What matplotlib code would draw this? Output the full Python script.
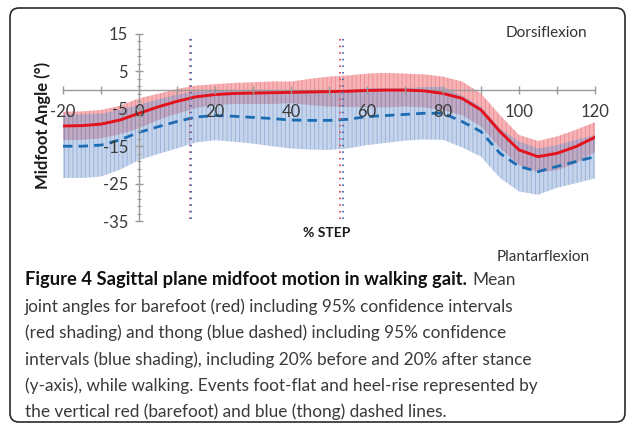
import numpy as np
import matplotlib
matplotlib.use("Agg")
import matplotlib.pyplot as plt
from matplotlib.patches import FancyBboxPatch

# % step (20% before and 20% after stance)
step = [-20, -15, -10, -5, 0, 5, 10, 15, 20, 25, 30, 35, 40, 45, 50, 55, 60,
        65, 70, 75, 80, 85, 90, 95, 100, 105, 110, 115, 120]

# barefoot (red) mean angle and 95% CI half width
bare_mean = [-9.6, -9.5, -9.1, -8.0, -6.2, -4.5, -3.0, -1.8, -1.2, -0.9, -0.8, -0.7,
             -0.6, -0.5, -0.4, -0.3, -0.1, 0.0, 0.0, -0.2, -0.9, -2.2, -5.3, -11.1,
             -16.0, -17.8, -16.9, -15.1, -12.6]
bare_ci = [3.8, 3.8, 3.8, 3.8, 4.0, 3.5, 3.3, 3.0, 2.8, 2.8, 2.9, 3.0, 2.9, 3.5,
           4.0, 4.2, 4.5, 4.6, 4.4, 4.4, 4.5, 4.5, 4.4, 4.4, 4.0, 4.2, 4.5, 4.5, 4.0]

# thong (blue) mean angle and 95% CI half width
thong_mean = [-15.0, -15.0, -14.7, -13.3, -11.3, -9.8, -8.4, -7.2, -6.8, -7.0, -7.3,
              -7.6, -8.0, -8.1, -8.1, -7.8, -7.1, -6.8, -6.5, -6.2, -6.2, -8.4, -11.1,
              -16.9, -20.4, -21.8, -20.4, -19.1, -17.8]
thong_ci = [8.5, 8.5, 8.4, 8.0, 7.4, 7.3, 7.2, 6.8, 6.6, 6.8, 7.0, 7.4, 7.6, 7.8,
            7.9, 7.8, 7.6, 7.3, 7.0, 7.0, 7.1, 6.9, 6.7, 6.6, 6.7, 6.2, 5.7, 5.8, 5.8]

# events foot-flat / heel-rise
bare_events = [13.5, 53.0]
thong_events = [13.8, 53.6]

x_ticks = [-20, 0, 20, 40, 60, 80, 100, 120]
y_ticks = [15, 5, -5, -15, -25, -35]

caption_bold = "Figure 4 Sagittal plane midfoot motion in walking gait."
caption_lines = [
    "Mean",
    "joint angles for barefoot (red) including 95% confidence intervals",
    "(red shading) and thong (blue dashed) including 95% confidence",
    "intervals (blue shading), including 20% before and 20% after stance",
    "(y-axis), while walking. Events foot-flat and heel-rise represented by",
    "the vertical red (barefoot) and blue (thong) dashed lines.",
]

plt.rcParams["font.family"] = ["Lato", "DejaVu Sans"]
plt.rcParams["hatch.linewidth"] = 0.7
plt.rcParams["axes.unicode_minus"] = False

W, H = 629, 423
fig = plt.figure(figsize=(W / 100, H / 100), dpi=100)

x = np.array(step)
bm, bc = np.array(bare_mean), np.array(bare_ci)
tm, tc = np.array(thong_mean), np.array(thong_ci)

ax = fig.add_axes([63 / W, (H - 221) / H, 532 / W, 187 / H])
ax.set_xlim(-20, 120)
ax.set_ylim(-35, 15)
ax.patch.set_visible(False)

# CI shading (excel-style error bars -> hatched fills)
ax.fill_between(x, bm - bc, bm + bc, facecolor="#f6b4b6", edgecolor="#ee8e93",
                hatch="||||", linewidth=0, zorder=1)
ax.fill_between(x, tm - tc, tm + tc, facecolor="#789dd3", edgecolor="#5f86c4",
                hatch="||||", linewidth=0, alpha=0.42, zorder=2)

ax.plot(x, tm, color="#1b6cb3", lw=2.0, dashes=(3.4, 2.2), zorder=4)
ax.plot(x, bm, color="#e3121c", lw=2.1, zorder=5)

for e in bare_events:
    ax.plot([e, e], [-34.5, 14.5], color="#e05060", lw=1.4, dashes=(0.8, 2.6), zorder=6)
for e in thong_events:
    ax.plot([e, e], [-34.5, 14.5], color="#5070b8", lw=1.4, dashes=(0.8, 2.6),
            dash_capstyle="butt", zorder=6)

for s in ["top", "right"]:
    ax.spines[s].set_visible(False)
ax.spines["left"].set_position(("data", 0))
ax.spines["bottom"].set_position(("data", 0))
for s in ["left", "bottom"]:
    ax.spines[s].set_color("#9a9a9a")
    ax.spines[s].set_linewidth(1.0)
    ax.spines[s].set_zorder(3)
ax.xaxis.set_zorder(7)
ax.yaxis.set_zorder(7)

ax.set_xticks(x_ticks)
ax.set_xticks(range(-20, 121, 10), minor=True)
ax.set_yticks(y_ticks)
ax.set_yticks(range(-35, 16, 2), minor=True)
ax.tick_params(axis="both", which="major", direction="inout", length=6, width=1,
               color="#9a9a9a", labelsize=12, labelcolor="#3a3a3a")
ax.tick_params(axis="x", which="major", pad=7)
ax.tick_params(axis="y", which="major", pad=5)
ax.tick_params(axis="x", which="minor", direction="inout", length=6, width=1, color="#9a9a9a")
ax.tick_params(axis="y", which="minor", direction="inout", length=3, width=0.8, color="#9a9a9a")

# axis titles and annotations (pixel positions from top-left)
def fig_xy(px, py):
    return px / W, (H - py) / H

fig.text(*fig_xy(43, 125), "Midfoot Angle (°)", rotation=90, ha="center", va="center",
         fontsize=12, fontweight="bold", color="#1a1a1a")
fig.text(*fig_xy(327, 233), "% STEP", ha="center", va="center",
         fontsize=10, fontweight="bold", color="#1a1a1a")
fig.text(*fig_xy(546, 33), "Dorsiflexion", ha="center", va="center",
         fontsize=11, color="#333333")
fig.text(*fig_xy(543, 257), "Plantarflexion", ha="center", va="center",
         fontsize=11, color="#333333")

# caption
cap_size = 12.4
line_y = [280, 306.5, 333, 359.5, 386, 412]
tb = fig.text(*fig_xy(25, line_y[0]), caption_bold, ha="left", va="center",
              fontsize=13.2, fontweight="bold", color="#111111")
fig.canvas.draw()
bb = tb.get_window_extent()
fig.text((bb.x1 + 6) / W, (H - line_y[0]) / H, caption_lines[0], ha="left", va="center",
         fontsize=cap_size, color="#3a3a3a")
for ly, txt in zip(line_y[1:], caption_lines[1:]):
    fig.text(*fig_xy(25, ly), txt, ha="left", va="center", fontsize=cap_size, color="#3a3a3a")

# rounded frame (bottom edge runs off the image)
frame = FancyBboxPatch((10, 1), 615, 414, boxstyle="round,pad=0,rounding_size=9",
                       transform=None, facecolor="none", edgecolor="#2a2a2a", lw=1.2)
fig.patches.append(frame)

fig.savefig("out.png", dpi=100)
